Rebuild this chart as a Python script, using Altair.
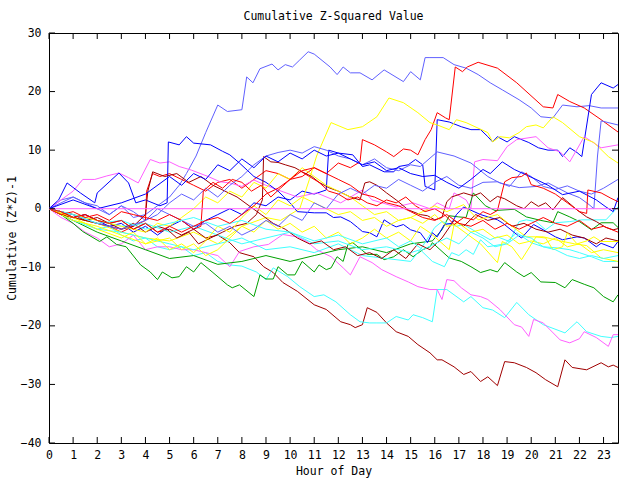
import altair as alt
import pandas as pd

# ---- data: (hour, cumulative value) pairs ----
s_lb_top = [(0,0),(0.5,1.5),(1,2),(1.5,1),(2,0.5),(2.5,-1),(3,0.5),(3.5,-1.5),(4,-1),(4.5,0.5),(5,2),(5.4,4),(5.7,6),(6.1,9),(6.5,13),(7.0,17.7),(7.4,16.6),(8.0,16.9),(8.2,22.5),(8.46,21.5),(8.75,23.9),(9.25,24.7),(9.5,23.7),(9.8,24.6),(10.1,24.2),(10.4,25.4),(10.75,26.8),(11.0,26.4),(11.66,24.2),(11.95,22.9),(12.2,24.2),(12.5,23.2),(12.9,23.2),(13.4,22.0),(13.9,23.7),(14.7,21.7),(15.0,23.4),(15.4,22.0),(15.6,25.8),(15.8,25.8),(16.35,25.8),(16.8,24.6),(17.3,24.0),(17.8,22.9),(18.3,21.5),(18.8,20.3),(19.5,18.6),(20.0,17.2),(20.4,15.7),(20.9,15.5),(21.3,17.7),(21.9,17.4),(22.4,17.6),(22.9,17.2),(23.6,17.2)]
s_red_top = [(0,0),(0.5,-1),(1,-1.5),(1.5,-2),(2,-2.5),(2.5,-3),(3,-4),(3.5,-3),(4,-2),(4.05,3),(4.3,6),(4.6,5.5),(5,6),(5.5,5),(6,4),(6.5,3),(7,4.5),(7.5,5),(8,3.5),(8.5,5),(9,6.5),(9.5,6),(10,5),(10.5,5.5),(11,7),(11.5,6),(12,7.8),(12.5,7),(12.9,8),(13.0,11.8),(13.5,10.9),(14,9.7),(14.3,8.9),(14.7,10.2),(15.0,10),(15.3,9.2),(15.6,11.8),(15.85,13.5),(16.1,16.4),(16.45,15.5),(16.6,15.2),(16.85,24.2),(17.15,23.4),(17.35,24.2),(17.8,25),(18.6,24),(19.4,21.5),(20.5,17.4),(20.9,17.2),(21.1,19.5),(21.6,18.3),(22.2,17.2),(22.9,15.2),(23.6,13.1)]
s_blue_jump = [(0,0),(0.5,-0.5),(1,-1.5),(1.5,-1),(2,-2),(2.5,-3),(3,-2.5),(3.5,-4),(4,-3),(4.5,-4.5),(5,-3),(5.5,-2),(6,-3.5),(6.5,-2),(7,-1),(7.5,0),(8,-1),(8.5,1),(9,0.5),(9.5,2),(10,1.5),(10.5,3),(11,2.5),(11.5,3.2),(11.6,10),(12,9.5),(12.6,9.2),(13.0,7.2),(13.3,7.5),(13.9,6.3),(14.3,6.3),(14.5,7.2),(14.9,7.5),(15.2,8.4),(15.5,7.5),(15.6,3.8),(16.0,3.2),(16.1,15.2),(16.6,14.8),(17.1,14),(17.5,13.5),(17.9,13.5),(18.2,12.3),(18.4,11.4),(18.6,12.3),(19.0,11.4),(19.3,12.3),(19.9,11.3),(20.3,10.4),(20.7,10),(21.1,10),(21.3,8.9),(21.6,10.4),(21.9,9.6),(22.1,8.9),(22.5,19.5),(22.9,21.5),(23.4,20.6),(23.6,21.2)]
s_mag_mid = [(0,0),(0.5,1.5),(1.0,3),(1.4,5),(1.9,5),(2.4,5.6),(2.9,6.1),(3.3,5.3),(3.7,4.4),(4.2,8.4),(4.6,7.8),(5.0,8),(5.4,7.2),(5.9,6.6),(6.6,5.5),(7.1,4.6),(7.5,4.4),(8.0,3.8),(8.5,4.9),(9.0,4),(9.5,3.2),(10.3,2),(11.1,2.7),(12.1,1),(13.0,3.2),(13.4,1.5),(14.4,0.3),(15.1,1),(15.8,0),(16.1,1),(16.6,0),(16.8,2.7),(17.3,1.5),(17.5,0),(17.65,8),(18.0,8.4),(18.6,8.2),(19.0,10.6),(19.4,11.8),(20.2,12.3),(20.7,10.4),(21.2,9.7),(21.6,8),(22.2,12.3),(22.5,11.5),(22.9,10.4),(23.6,10.9)]
s_yel_top = [(0,0),(1,-1.5),(2,-2.5),(3,-4),(4,-5),(5,-5.5),(6,-4),(7,-6),(8,-3),(9,-1.5),(9.6,-2),(10.4,0),(10.8,5),(11.1,9),(11.7,14.7),(12.4,13.5),(13.0,14),(13.6,15.7),(14.1,18.9),(14.7,18.1),(15.3,16.4),(15.8,14.7),(16.1,14.3),(16.6,13.5),(16.9,15.2),(17.3,14.7),(18.2,13),(18.4,11.4),(18.7,12.3),(19.1,12.1),(19.5,13),(19.8,14),(20.2,14.3),(20.5,13.8),(20.9,15.7),(21.3,14.7),(22.0,12.3),(22.6,11.3),(23.2,8.9),(23.6,7.8)]
s_dred_bot = [(0,0),(0.5,-0.5),(1,-1.5),(1.5,-1),(2,-2),(2.5,-2.5),(3,-2),(3.5,-3.5),(4,-2.5),(4.5,-4),(5,-3.5),(5.5,-4.5),(6,-3.5),(6.5,-5),(7,-4.5),(7.5,-5.8),(7.9,-7.5),(8.5,-8.2),(8.9,-9.9),(9.3,-10.9),(9.7,-12.6),(10.3,-14.1),(11.0,-16.4),(11.5,-17.2),(12.1,-19.3),(12.5,-19.8),(12.7,-20.3),(13.0,-19.8),(13.2,-16.9),(13.6,-17.7),(14.0,-19.5),(14.4,-21),(14.9,-21.8),(15.3,-23.2),(15.8,-24.6),(16.1,-25.8),(16.3,-25.8),(16.8,-27),(17.2,-28.3),(17.5,-27.8),(17.9,-29.5),(18.2,-28.7),(18.6,-30.2),(18.9,-26.1),(19.3,-26.3),(19.8,-27.1),(20.2,-28),(20.6,-29.2),(21.1,-30.4),(21.4,-25.8),(21.7,-27.1),(22.3,-27.5),(22.9,-26.3),(23.2,-27),(23.4,-26.7),(23.6,-27.1)]
s_cyan_bot = [(0,0),(0.5,-1),(1,-2),(1.5,-2.5),(2,-3.5),(2.5,-3),(3,-4.5),(3.5,-5.5),(4,-5),(4.5,-6.5),(5,-7),(5.5,-6.5),(6,-8),(6.5,-7.5),(7,-9),(7.5,-9.6),(8.0,-9.8),(8.6,-10.8),(9.0,-12.1),(9.3,-10.1),(9.9,-11.6),(10.4,-13.3),(11.0,-15),(11.4,-14.7),(11.9,-15.9),(12.5,-18.1),(12.9,-19.3),(13.3,-19.5),(13.6,-19.5),(14.0,-19.5),(14.4,-18.4),(14.9,-19),(15.1,-18.1),(15.5,-18.6),(15.9,-19.3),(16.1,-13.8),(16.5,-13.8),(17.2,-15.9),(17.5,-15),(18.0,-16.9),(18.4,-17.3),(18.9,-18.6),(19.4,-16.0),(19.9,-18.1),(20.5,-19.8),(21.4,-21.2),(21.9,-19.3),(22.3,-21),(22.9,-21.8),(23.3,-22),(23.6,-21.8)]
s_mag_bot = [(0,0),(0.5,-1.5),(1,-2.5),(1.5,-4),(2,-5),(2.5,-6.5),(3,-6),(3.5,-4.5),(4,-7),(4.5,-6.5),(5,-6.5),(5.5,-7),(6,-7),(6.5,-7.5),(7,-8),(7.5,-9.9),(7.9,-7.3),(8.5,-6.5),(9.1,-6.1),(9.7,-4.4),(10.3,-4.8),(10.7,-5.6),(11.1,-7),(11.7,-8.2),(12.2,-10.1),(12.5,-11.3),(12.9,-8.2),(13.4,-9.2),(13.8,-10.4),(14.4,-11.6),(14.9,-12.5),(15.3,-13.3),(15.8,-13.8),(16.1,-13.8),(16.3,-15.5),(16.5,-12.1),(16.8,-12.3),(17.1,-13.5),(17.5,-14.7),(17.9,-15),(18.2,-15.5),(18.7,-17.2),(19.3,-19.8),(19.6,-20.2),(19.9,-21.8),(20.1,-18.9),(20.5,-19.5),(21.2,-22.4),(21.6,-22.9),(22.0,-22.2),(22.2,-21),(22.7,-22),(23.2,-23.5),(23.4,-21.5),(23.6,-21.5)]
s_grn_bot = [(0,0),(0.5,-1),(1.0,-2.5),(1.4,-3.9),(2.1,-5.6),(2.4,-4.8),(2.8,-6.1),(3.2,-6.5),(3.8,-9.6),(4.2,-10.8),(4.5,-12.1),(4.7,-10.8),(5.1,-11.8),(5.4,-11.6),(5.7,-9.9),(6.0,-10.8),(6.3,-9.2),(6.8,-10.9),(7.4,-13),(7.6,-13.5),(7.9,-13),(8.5,-15),(8.75,-11.3),(9.0,-12),(9.3,-12),(9.5,-9.9),(9.9,-11.3),(10.2,-11.3),(10.5,-9),(11.0,-10.8),(11.2,-9.6),(11.5,-10.4),(11.7,-10.1),(11.95,-8.2),(12.2,-9),(12.4,-6.1),(12.6,-5.8),(13.2,-7.8),(13.6,-7.8),(13.9,-8.7),(14.3,-8.2),(14.7,-7),(15.1,-8.2),(15.5,-7),(15.8,-6.5),(15.9,-5.8),(16.6,-8.4),(17.1,-9),(17.5,-9.9),(17.9,-10.9),(18.3,-10.4),(18.6,-10.8),(18.9,-9.2),(19.4,-10.8),(19.7,-11.6),(20.0,-10.9),(20.4,-12.5),(21.0,-12.6),(21.4,-13.5),(21.7,-12.1),(22.2,-12.9),(22.6,-13.5),(23.0,-15),(23.4,-15.9),(23.6,-14.7)]
s_grn_up = [(0,0),(1,-2),(2,-4),(3,-5.5),(4,-7),(5,-8.5),(6,-8),(7,-9.5),(8,-9),(9,-8),(10,-9),(11,-8),(12,-7),(13,-6.5),(14,-7.5),(15,-6),(15.9,-5.5),(16.3,-3.6),(16.6,-1.2),(17.0,-1.4),(17.3,-1.5),(17.6,2.7),(18.1,0.5),(18.5,-0.3),(19.3,-0.1),(19.8,-1.4),(20.4,-2),(20.9,-2.4),(21.1,-0.5),(21.6,-1.4),(22.0,-2.2),(22.5,-3.6),(22.9,-2.4),(23.4,-2.4),(23.6,-3.2)]
s_cyan_up = [(0,0),(1,-1),(2,-2),(3,-3),(4,-2.5),(5,-4),(6,-3),(7,-4.5),(8,-6),(9,-5),(10,-4),(11,-6),(12,-5.5),(13,-7),(14,-6.5),(15,-7.5),(15.4,-7),(16.0,-3.2),(16.3,-2.2),(16.9,-3),(17.2,-2.7),(17.9,-4.4),(18.3,-5.3),(18.6,-4.8),(19.1,-5.6),(19.5,-2.2),(19.8,-1.9),(20.2,-2.2),(20.6,-3.6),(21.0,-2.4),(21.6,-2.2),(22.1,-1.9),(22.6,-1.9),(23.1,-1.9),(23.6,0.3)]
s_cyan_mid = [(0,0),(1,-2),(2,-3.5),(3,-4),(4,-5),(5,-6),(6,-7),(7,-6),(8,-5),(9,-7),(10,-6.5),(11,-7.5),(12,-6),(13,-8),(14,-8.5),(15,-9),(15.4,-7),(15.9,-9),(16.4,-9.9),(16.7,-7.5),(17.0,-8),(17.3,-7),(17.6,-7.8),(17.9,-5.3),(18.2,-6.5),(18.9,-6),(19.4,-4.1),(20.0,-5.8),(20.5,-6.5),(21.1,-6.7),(21.6,-7),(22.0,-7.5),(22.5,-8.2),(23.0,-9),(23.6,-9)]
s_blue_mid = [(0,0),(0.4,1.5),(0.75,4.4),(1.3,2.7),(1.9,1),(2.0,2.7),(2.9,6.1),(3.3,4.4),(3.6,1),(4.0,1.5),(4.6,0.5),(4.9,1),(4.95,11.4),(5.4,10.9),(5.7,12.3),(6.0,11.2),(6.7,10.9),(7.2,9.8),(7.5,9.2),(7.9,7.8),(8.5,5.5),(9.0,4.5),(9.5,3),(10.0,1),(10.3,-0.5),(11.0,-0.7),(11.5,-0.7),(11.8,-1.5),(12.1,-1.4),(12.5,-2.2),(12.8,-3.2),(13.0,-3.9),(13.3,-4.1),(13.6,-4.8),(13.9,-1.9),(14.2,-2.7),(14.4,-3.1),(14.7,-2.7),(15.0,-3.6),(15.4,-4.1),(15.7,-5.8),(15.9,-4.1),(16.1,-4.8),(16.4,-2.7),(16.7,-2.5),(16.9,-1),(17.2,0.3),(17.9,-1),(18.6,-1.9),(18.8,-2.4),(19.4,-4.4),(19.6,-5),(20.1,-2.7),(20.5,-3.6),(21.0,-4.8),(21.3,-5.3),(21.9,-4.8),(22.2,-5),(22.7,-6.5),(22.9,-5.9),(23.4,-6.7),(23.6,-5.6)]
s_dred_mid = [(0,0),(0.5,-0.5),(1,-1),(1.5,-2),(2,-1.5),(2.5,-2.5),(3,-3.5),(3.5,-2.5),(4,-4),(4.5,-3),(4.9,-3.5),(5.3,-5),(5.8,-4),(6.2,-6),(6.7,-5),(7.2,-4),(7.7,-3),(8.2,-2.5),(8.6,-1),(8.85,1.5),(8.9,8.9),(9.2,8),(9.5,7.9),(9.8,7.5),(10.2,7),(10.5,6.3),(10.9,5.5),(11.2,4.5),(11.6,3.6),(12.0,3),(12.5,2),(12.9,1.5),(13.1,4.4),(13.3,4.6),(13.6,4),(14.0,2.7),(14.4,1.5),(14.9,-0.2),(15.4,-1),(15.7,-1.2),(16.0,-1.9),(16.3,-1.5),(16.5,1.2),(16.7,2),(17.2,2.7),(17.6,2.2),(17.9,2.7),(18.3,1.2),(18.6,2.1),(18.9,1.7),(19.4,0.5),(19.7,0),(20.0,1.2),(20.3,0.4),(20.6,1),(20.9,-0.2),(21.3,1.9),(21.9,-0.2),(22.3,-1.4),(22.7,-2.2),(23.1,-3.2),(23.4,-3.6),(23.6,-3.4)]
s_dred_2 = [(0,0),(0.5,-1),(1,-1.5),(1.5,-2),(2,-2.5),(2.5,-3),(3,-3.5),(3.5,-3),(4.0,-1),(4.1,3),(4.3,6.3),(4.8,5.5),(5.3,6),(5.8,4.5),(6.3,5.5),(6.8,4),(7.3,3),(7.8,2),(8.3,0.5),(8.8,-1),(9.3,-2.5),(9.8,-3.5),(10.3,-5),(10.8,-6),(11.3,-5.5),(11.8,-7),(12.3,-6.5),(12.8,-8),(13.3,-7.5),(13.8,-8.5),(14.3,-7),(14.8,-8.5),(15.3,-6),(15.8,-7),(16.3,-5),(16.8,-2),(17.2,-3),(17.7,-1),(18.2,-2),(18.7,-1.5),(19.2,-3),(19.7,-2.5),(20.2,-3.5),(20.7,-4),(21.2,-3.5),(21.7,-4.5),(22.2,-5),(22.7,-6),(23.1,-5),(23.6,-5.5)]
s_yel_mid = [(0,0),(1,-2),(2,-3),(3,-4.5),(4,-6),(5,-5),(5.5,-7),(6,-6),(6.5,-8),(7,-7),(7.5,-5),(8,-3),(8.5,-4),(9,-2),(9.5,-3.5),(10,-2.5),(10.5,-4),(11,-3),(11.5,-5),(12,-4),(12.5,-6),(13,-5),(13.5,-3.5),(14,-5),(14.5,-4),(15,-5.5),(15.4,-3),(15.8,-4.1),(16.6,-7),(16.8,-2.7),(17.4,-4.5),(17.9,-6),(18.6,-9.2),(18.8,-5.6),(19.2,-6.5),(19.6,-8.7),(20.2,-4.8),(20.6,-5),(20.9,-7),(21.3,-6.5),(21.5,-4.1),(21.9,-6),(22.3,-5.5),(22.6,-4.8),(22.9,-5.6),(23.6,-5.6)]
s_yel_low = [(0,0),(1,-1.5),(2,-3.5),(3,-5),(3.5,-4),(4,-6),(4.5,-5),(5,-7),(5.5,-6),(6,-7.5),(6.5,-5.5),(7,-3),(7.5,-4),(8,-1.5),(8.5,0.5),(9,-1),(9.5,1.5),(10,0.5),(10.5,2),(11,1),(11.5,0),(12,-1),(12.5,-0.5),(13,-2),(13.5,-1.5),(14,-3),(14.5,-2),(15,-1.5),(15.5,-0.5),(16,0.5),(16.5,-0.5),(17.2,0.7),(17.8,-1.9),(18.6,-1),(19.2,-3),(19.8,-4.8),(20.5,-4.8),(21.2,-5.5),(21.8,-6),(22.3,-6.3),(22.9,-8.4),(23.6,-9)]
s_yel_3 = [(0,0),(1,-1),(2,-2),(3,-3),(4,-4),(4.5,-2.5),(5,-3),(5.5,-1.5),(6,0),(6.5,2),(7,1),(7.5,3),(8,2),(8.5,4.5),(9,3.5),(9.5,6),(10,5),(10.5,7),(11,5.5),(11.5,4),(12,3),(12.5,2),(13,0.5),(13.5,-1),(14,-0.5),(14.5,-2),(15,-1.5),(15.5,-2.5),(16,-1),(16.5,-3),(17,-2.5),(17.5,-4),(18,-3.5),(18.5,-5),(19,-4.5),(19.5,-6),(20,-5.5),(20.5,-6),(21,-5),(21.5,-6.5),(22,-6),(22.5,-7.5),(23,-7),(23.6,-7.5)]
s_lb_2 = [(0,0),(0.5,1),(1,2),(1.5,1),(2,0),(2.5,-1),(3,0.5),(3.5,-0.5),(4,-2),(4.5,-1),(5,1),(5.5,2.5),(6,1.5),(6.5,3.5),(7,2),(7.5,4),(8,5.5),(8.5,7.5),(9.0,9),(9.5,9.6),(10,10),(10.5,9.5),(11.0,10.6),(11.5,10),(12,9),(12.5,8.5),(13,7.5),(13.5,8.5),(14,7),(14.5,6.5),(15,7.5),(15.4,7.2),(16.1,9.7),(16.8,9),(17.5,7.8),(18.2,5.5),(18.7,4.4),(19.5,3.6),(20.2,3.8),(20.7,4.4),(21.5,2.7),(22.0,1.9),(22.4,0.7),(22.6,0),(22.75,9),(22.9,15),(23.6,14.3)]
s_lb_3 = [(0,0),(1,-1),(2,-2.5),(3,-3.5),(4,-2),(4.5,0),(5,-1),(5.5,-2),(6,-3),(6.5,-2.5),(7,-4),(7.5,-3),(8,-4.5),(8.5,-3.5),(9,-2),(9.5,-3),(10,-1),(10.5,-2),(11,1),(11.5,0),(12,2.5),(12.5,3.5),(13,2.5),(13.5,4),(14,3.5),(14.5,5),(15,4),(15.5,3),(16,4.5),(16.5,5.5),(17,4),(17.5,3.5),(18,4.5),(18.6,4.6),(19.1,3.8),(19.6,6.3),(20.0,5.5),(20.5,3.8),(21.0,3.3),(21.5,3.9),(22.0,3),(22.5,2.5),(23,3.5),(23.6,5)]
s_blue_3 = [(0,0),(1,1.5),(2,0),(3,1),(4,2.5),(5,5.5),(5.5,4),(6,6),(6.5,5),(7,7.5),(7.5,6.5),(8,8.5),(8.5,7),(9,9),(9.5,8),(10,9.5),(10.5,8.5),(11,10),(11.5,9),(12,9.5),(12.5,8.5),(13,7.5),(13.5,8),(14,6.5),(14.5,7),(15,6),(15.5,5.5),(16,5.7),(16.5,4.5),(17,3.5),(17.5,5),(18,6.7),(18.3,6),(18.8,8),(19.3,6.7),(20.2,5),(20.7,4),(21.3,2.4),(22.0,3),(22.7,1.5),(23.1,0.3),(23.4,-0.5),(23.6,1.9)]
s_red_2 = [(0,0),(0.5,-1),(1,-0.5),(1.5,-1.5),(2,-1),(2.5,-2),(3,-0.5),(3.5,-1),(4,-1.5),(4.5,-2),(5,-1),(5.5,-2),(6,-3.5),(6.3,-3),(6.4,3),(6.8,4.5),(7.2,3.5),(7.6,5),(8,4.5),(8.4,3),(8.8,4),(9.2,2),(9.6,3.5),(10.0,5),(10.4,6.5),(10.8,5.5),(11.2,4.5),(11.6,3),(12,2.5),(12.4,1.5),(12.8,2),(13.2,1),(13.6,0.5),(14,1.5),(14.4,1),(14.8,2),(15.2,0.5),(15.6,-0.5),(16,0),(16.4,-1),(16.8,-2.7),(17.2,-1.5),(17.6,-1.9),(18.0,-0.5),(18.3,-1),(18.6,-0.3),(18.9,4.6),(19.2,5.3),(19.6,5.5),(19.8,6.1),(20.0,4.1),(20.5,3.5),(21,2.5),(21.5,1),(22.0,-0.5),(22.3,-0.8),(22.35,3.2),(22.9,2.7),(23.3,1.8),(23.6,1.2)]
s_cyan_3 = [(0,0),(1,-1),(2,-2.5),(3,-2),(4,-3.5),(5,-2.5),(6,-1.5),(7,-3),(8,-2),(9,-3.5),(10,-4),(11,-5.5),(12,-4.5),(13,-6),(14,-5),(14.5,-6.5),(15,-5.5),(15.5,-7),(16,-6),(16.5,-5),(17,-6),(17.5,-4),(18,-5),(18.5,-6.5),(19,-6),(19.5,-4.5),(20,-5),(20.5,-6.5),(21,-7),(21.5,-8),(22,-8.5),(22.5,-8),(23,-8.5),(23.6,-8)]
s_red_3 = [(0,0),(0.5,-0.5),(1,-1.5),(1.5,-1),(2,-2),(2.5,-2.5),(3,-2),(3.5,-3.5),(4,-2.5),(4.5,-4),(5,-3),(5.5,-4),(6,-3),(6.5,-2),(7,-1.5),(7.5,-2.5),(8,-1),(8.5,0.5),(9,2.5),(9.5,3.5),(10,5),(10.5,6.5),(11,7),(11.5,6),(12,5),(12.5,4),(13,2.5),(13.5,2),(14,1),(14.5,0.5),(15,-0.5),(15.5,-1.5),(16,-2),(16.5,-1),(17,-2.5),(17.5,-3),(18,-2),(18.5,-3.5),(19,-2.5),(19.5,-3.5),(20,-2.5),(20.5,-1.5),(21,-2.5),(21.5,-3),(22,-2),(22.5,-3.5),(23,-3),(23.6,-4)]
s_zero = [(0,0),(23.6,0)]

series = [
    ("s01", s_lb_top, "#6060ff"),
    ("s02", s_red_top, "#ff0000"),
    ("s03", s_blue_jump, "#0000ff"),
    ("s04", s_mag_mid, "#ff60ff"),
    ("s05", s_yel_top, "#ffff00"),
    ("s06", s_dred_bot, "#a00000"),
    ("s07", s_cyan_bot, "#40ffff"),
    ("s08", s_mag_bot, "#ff60ff"),
    ("s09", s_grn_bot, "#00a000"),
    ("s10", s_grn_up, "#00a000"),
    ("s11", s_cyan_up, "#40ffff"),
    ("s12", s_cyan_mid, "#40ffff"),
    ("s13", s_blue_mid, "#0000ff"),
    ("s14", s_dred_mid, "#a00000"),
    ("s15", s_dred_2, "#a00000"),
    ("s16", s_yel_mid, "#ffff00"),
    ("s17", s_yel_low, "#ffff00"),
    ("s18", s_yel_3, "#ffff00"),
    ("s19", s_lb_2, "#6060ff"),
    ("s20", s_lb_3, "#6060ff"),
    ("s21", s_blue_3, "#0000ff"),
    ("s22", s_red_2, "#ff0000"),
    ("s23", s_cyan_3, "#40ffff"),
    ("s24", s_red_3, "#ff0000"),
    ("s25", s_zero, "#ff60ff"),
]

hour_ticks = list(range(0, 24))
value_ticks = [-40, -30, -20, -10, 0, 10, 20, 30]

rows = []
for name, pts, _ in series:
    for h, v in pts:
        rows.append({"series": name, "hour": h, "value": v})
df = pd.DataFrame(rows)
names = [s[0] for s in series]
colors = [s[2] for s in series]

FONT = "DejaVu Sans Mono"
W, H = 569, 410

x_enc = alt.X("hour:Q", scale=alt.Scale(domain=[0, 23.6], nice=False, zero=False),
              axis=alt.Axis(values=hour_ticks, title="Hour of Day", grid=False, ticks=False, tickSize=0,
                            domain=False, labelFont=FONT, labelFontSize=11.5, labelColor="black",
                            labelPadding=6, titleFont=FONT, titleFontSize=11.5, titleFontWeight="normal",
                            titleColor="black", titlePadding=5, labelFlush=False, labelOverlap=False))
y_enc = alt.Y("value:Q", scale=alt.Scale(domain=[-40, 30], nice=False, zero=False),
              axis=alt.Axis(values=value_ticks, title="Cumulative (Z*Z)-1", grid=False, ticks=False, tickSize=0,
                            domain=False, labelFont=FONT, labelFontSize=11.5, labelColor="black",
                            labelPadding=8, titleFont=FONT, titleFontSize=11.5, titleFontWeight="normal",
                            titleColor="black", titlePadding=3, labelFlush=False, labelOverlap=False))

lines = alt.Chart(df).mark_line(strokeWidth=1, clip=True).encode(
    x=x_enc, y=y_enc,
    color=alt.Color("series:N", scale=alt.Scale(domain=names, range=colors), legend=None),
)

xt = pd.DataFrame({"hour": hour_ticks})
yt = pd.DataFrame({"value": value_ticks})
tick_bottom = alt.Chart(xt).mark_rule(color="black", strokeWidth=1).encode(x=x_enc, y=alt.value(H), y2=alt.value(H - 6))
tick_top = alt.Chart(xt).mark_rule(color="black", strokeWidth=1).encode(x=x_enc, y=alt.value(0), y2=alt.value(6))
tick_left = alt.Chart(yt).mark_rule(color="black", strokeWidth=1).encode(y=y_enc, x=alt.value(0), x2=alt.value(6))
tick_right = alt.Chart(yt).mark_rule(color="black", strokeWidth=1).encode(y=y_enc, x=alt.value(W - 6), x2=alt.value(W))

chart = alt.layer(lines, tick_bottom, tick_top, tick_left, tick_right).properties(
    width=W, height=H,
    title=alt.TitleParams("Cumulative Z-Squared Value", font=FONT, fontSize=11.5, fontWeight="normal",
                          color="black", anchor="middle", offset=5),
    autosize=alt.AutoSizeParams(type="none"),
    padding={"left": 49, "top": 33, "right": 22, "bottom": 37},
    background="white",
).configure_view(stroke="black", strokeWidth=1)

chart.save("out.html", embed_options={"renderer": "svg", "actions": False})
